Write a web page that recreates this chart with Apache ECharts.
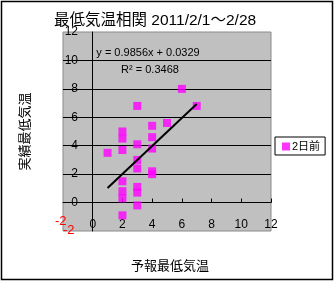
<!DOCTYPE html>
<html><head><meta charset="utf-8">
<script src="https://cdn.jsdelivr.net/npm/echarts@6/dist/echarts.min.js"></script>
<style>html,body{margin:0;padding:0;background:#fff}#c{width:335px;height:282px}</style>
</head><body><div id="c"></div>
<script>
const titleText = '最低気温相関 2011/2/1～2/28';
const seriesName = '2日前';
const xName = '予報最低気温';
const yName = '実績最低気温';
const forecast = [1, 2, 2, 2, 2, 2, 2, 2, 3, 3, 3, 3, 3, 3, 3, 4, 4, 4, 4, 4, 5, 6, 7];
const actual   = [3.5, 5.0, 4.5, 3.7, 1.5, 0.8, 0.3, -0.9, 6.8, 4.1, 3.0, 2.4, 1.1, 0.7, -0.2, 5.4, 4.6, 3.8, 2.2, 2.0, 5.6, 8.0, 6.8];
const trendX = [1, 7];
const trendY = [1.02, 6.93];
const eqText = 'y = 0.9856x + 0.0329';
const r2Text = 'R² = 0.3468';
const axisMin = -2, axisMax = 12, axisStep = 2;
const minLabel = '-2';

const FONT = "'Liberation Sans', 'Noto Sans CJK JP', sans-serif";
const chart = echarts.init(document.getElementById('c'), null, {renderer: 'canvas'});
chart.setOption({
  animation: false,
  backgroundColor: '#fff',
  title: {text: titleText, left: 54, top: 13, padding: 0,
    textStyle: {fontFamily: FONT, fontSize: 15.5, fontWeight: 'normal', color: '#000'}},
  legend: {data: [seriesName], left: 275, top: 137, orient: 'vertical',
    backgroundColor: '#fff', borderColor: '#000', borderWidth: 1, padding: [4, 5, 3, 7],
    itemWidth: 8, itemHeight: 8, itemGap: 0, icon: 'rect',
    textStyle: {fontFamily: FONT, fontSize: 11, color: '#000', padding: [0, 0, 0, -3]}},
  grid: {left: 63, right: 64, top: 32, bottom: 51, show: true, backgroundColor: '#c0c0c0',
    borderColor: '#8a8a8a', borderWidth: 1, containLabel: false, outerBoundsMode: 'none'},
  xAxis: {type: 'value', min: axisMin, max: axisMax, interval: axisStep,
    name: xName, nameLocation: 'middle', nameGap: 29,
    nameTextStyle: {fontFamily: FONT, fontSize: 13, color: '#000', padding: [0, 0, 0, 6]},
    axisLine: {onZero: true, lineStyle: {color: '#000', width: 1}},
    axisTick: {show: true, inside: true, length: 4, lineStyle: {color: '#000'}},
    axisLabel: {showMinLabel: false, margin: -12, fontFamily: FONT, fontSize: 12, color: '#000'},
    splitLine: {show: false}},
  yAxis: {type: 'value', min: axisMin, max: axisMax, interval: axisStep,
    name: yName, nameLocation: 'middle', nameGap: 31, nameRotate: 90,
    nameTextStyle: {fontFamily: FONT, fontSize: 13, color: '#000', padding: [0, 0, 0, 0]},
    axisLine: {onZero: true, lineStyle: {color: '#000', width: 1}},
    axisTick: {show: false},
    axisLabel: {showMinLabel: false, margin: -15, fontFamily: FONT, fontSize: 12, color: '#000'},
    splitLine: {show: true, showMinLine: false, showMaxLine: false, lineStyle: {color: '#000', width: 1}}},
  graphic: [
    {type: 'rect', shape: {x: 1.5, y: 1.5, width: 331, height: 278}, style: {fill: 'none', stroke: '#000', lineWidth: 1.5}, z: 100},
    {type: 'text', left: 55, top: 215, style: {text: minLabel, fill: '#ff0000', font: '13px ' + FONT}},
    {type: 'text', left: 63, top: 224, style: {text: minLabel, fill: '#ff0000', font: '13px ' + FONT}},
    {type: 'text', x: 148, y: 53, style: {text: eqText, fill: '#000', font: '11px ' + FONT, textAlign: 'center', textVerticalAlign: 'middle'}, z: 50},
    {type: 'text', x: 150, y: 70, style: {text: r2Text, fill: '#000', font: '11px ' + FONT, textAlign: 'center', textVerticalAlign: 'middle'}, z: 50}
  ],
  series: [
    {name: seriesName, type: 'scatter', symbol: 'rect', symbolSize: 8,
      itemStyle: {color: '#ff00ff'},
      data: forecast.map((x, i) => [x, actual[i]])},
    {name: 'trend', type: 'line', symbol: 'none', silent: true,
      lineStyle: {color: '#000', width: 2},
      data: trendX.map((x, i) => [x, trendY[i]])}
  ]
});
</script></body></html>
